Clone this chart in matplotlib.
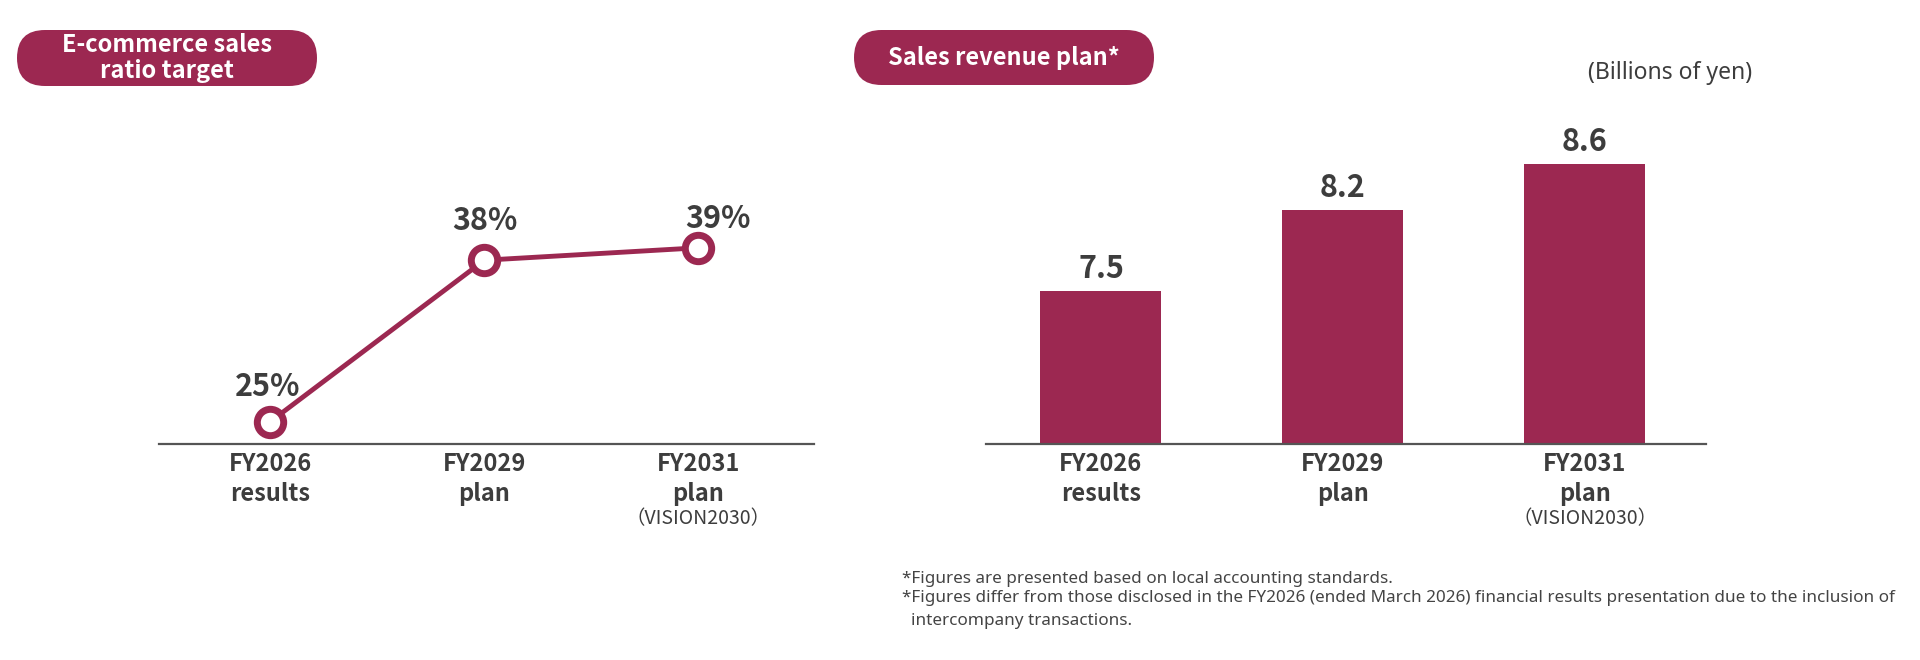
import matplotlib
matplotlib.use('Agg')
import matplotlib.pyplot as plt
from matplotlib.patches import FancyBboxPatch

plt.rcParams['font.family'] = ['Noto Sans CJK JP', 'DejaVu Sans']
WIDE = ['Noto Sans', 'Noto Sans CJK JP', 'DejaVu Sans']

MAROON = '#9c2851'
TEXT_DARK = '#3d3d3d'
AXIS_GRAY = '#555555'

# data
categories = ['FY2026\nresults', 'FY2029\nplan', 'FY2031\nplan']
ec_ratio = [25, 38, 39]
ec_labels = ['25%', '38%', '39%']
sales = [7.5, 8.2, 8.6]
sales_labels = ['7.5', '8.2', '8.6']
vision_note = '（VISION2030）'
footnotes = ['*Figures are presented based on local accounting standards.',
             '*Figures differ from those disclosed in the FY2026 (ended March 2026) financial results presentation due to the inclusion of',
             'intercompany transactions.']

W, H = 1920, 660
fig = plt.figure(figsize=(W / 100, H / 100), dpi=100)

def frac(x0, y0, x1, y1):
    # pixel box (top-left origin) -> figure fraction rect
    return [x0 / W, 1 - y1 / H, (x1 - x0) / W, (y1 - y0) / H]

# overlay for pills and free text (pixel coords)
bg = fig.add_axes([0, 0, 1, 1])
bg.set_xlim(0, W)
bg.set_ylim(H, 0)
bg.axis('off')

def pill(x0, y0, x1, y1, label):
    h = y1 - y0
    bg.add_patch(FancyBboxPatch((x0, y0), x1 - x0, h,
                                boxstyle='round,pad=0,rounding_size=%f' % (h / 2),
                                fc=MAROON, ec='none'))
    bg.text((x0 + x1) / 2, (y0 + y1) / 2, label, ha='center', va='center',
            color='white', fontsize=17, fontweight='bold', linespacing=1.1)

pill(17, 30, 317, 86, 'E-commerce sales\nratio target')
pill(854, 30, 1154, 85, 'Sales revenue plan*')

bg.text(1670, 73, '(Billions of yen)', ha='center', va='center',
        color=TEXT_DARK, fontsize=16.5, family=WIDE)

bg.text(902, 579, footnotes[0], ha='left', va='center', color='#444444', fontsize=12.3, family=WIDE)
bg.text(902, 598, footnotes[1], ha='left', va='center', color='#444444', fontsize=12.3, family=WIDE)
bg.text(911, 621, footnotes[2], ha='left', va='center', color='#444444', fontsize=12.3, family=WIDE)

def cat_labels(ax):
    for i, c in enumerate(categories):
        ax.annotate(c, xy=(i, 0), xycoords=ax.get_xaxis_transform(),
                    xytext=(0, -8), textcoords='offset pixels',
                    ha='center', va='top', fontsize=17, fontweight='bold',
                    color=TEXT_DARK, linespacing=1.3)
    ax.annotate(vision_note, xy=(2, 0), xycoords=ax.get_xaxis_transform(),
                xytext=(0, -75), textcoords='offset pixels',
                ha='center', va='center', fontsize=14, color=TEXT_DARK,
                family=['Noto Sans CJK JP'])

def clean(ax):
    for s in ['top', 'right', 'left']:
        ax.spines[s].set_visible(False)
    ax.spines['bottom'].set_color(AXIS_GRAY)
    ax.spines['bottom'].set_linewidth(1.6)
    ax.set_xticks([])
    ax.set_yticks([])
    ax.patch.set_alpha(0)

# left: line chart
ax1 = fig.add_axes(frac(159, 100, 814, 444))
xs = range(len(ec_ratio))
ax1.plot(xs, ec_ratio, color=MAROON, linewidth=3.5, marker='o', markersize=19,
         markerfacecolor='white', markeredgecolor=MAROON, markeredgewidth=5, clip_on=False)
ax1.set_xlim(-0.52, 2.54)
ax1.set_ylim(23.2, 50.9)
label_off = [(-3, 35), (1, 39), (20, 29)]
for i, (v, t) in enumerate(zip(ec_ratio, ec_labels)):
    ax1.annotate(t, xy=(i, v), xytext=label_off[i], textcoords='offset pixels',
                 ha='center', va='center', fontsize=22, fontweight='bold', color=TEXT_DARK)
clean(ax1)
cat_labels(ax1)

# right: bar chart
ax2 = fig.add_axes(frac(986, 100, 1706, 444))
ax2.bar(range(len(sales)), sales, width=0.5, color=MAROON)
ax2.set_xlim(-0.475, 2.5)
ax2.set_ylim(6.18, 9.15)
for i, (v, t) in enumerate(zip(sales, sales_labels)):
    ax2.annotate(t, xy=(i, v), xytext=(0, 22), textcoords='offset pixels',
                 ha='center', va='center', fontsize=22, fontweight='bold', color=TEXT_DARK)
clean(ax2)
cat_labels(ax2)

fig.savefig('out.png', dpi=100, facecolor='white')
